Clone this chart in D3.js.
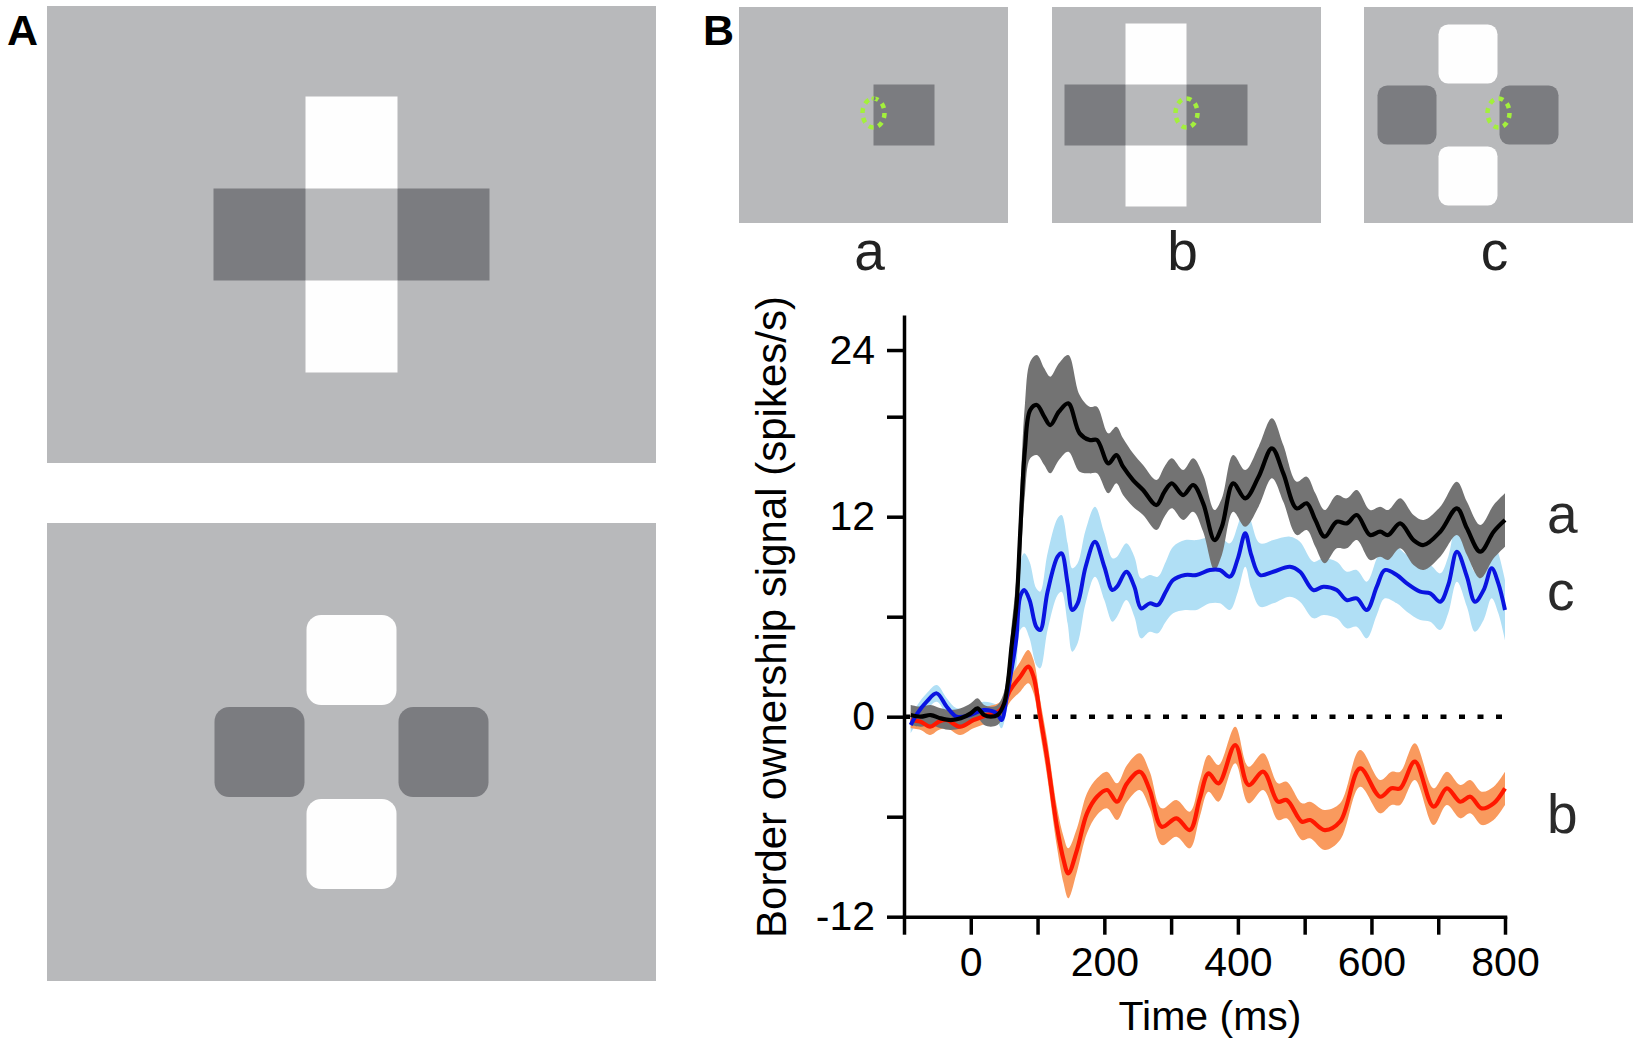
<!DOCTYPE html>
<html>
<head>
<meta charset="utf-8">
<script src="https://cdn.jsdelivr.net/npm/d3@7"></script>
<style>
body { margin: 0; background: #fff; }
svg { display: block; font-family: "Liberation Sans", Arial, sans-serif; }
</style>
</head>
<body>
<div id="fig"></div>
<script>
// ---- data (time in ms, signal in spikes/s) ----
var timeA = [-90,-75,-60,-45,-30,-15,0,10,20,30,40,50,56,61,66,69,74,81,89,99,110,119,132,146,163,178,189,206,218,228,243,258,278,290,301,318,333,348,365,376,393,411,431,451,468,488,503,516,530,548,563,578,598,613,625,643,663,678,703,728,743,763,783,800];
var meanA = [0.1,0.0,0.1,-0.1,-0.2,-0.1,0.2,0.5,0.1,0.0,0.1,0.8,2.2,4.2,5.8,7.0,11.0,16.0,18.4,18.7,18.0,17.5,18.3,18.8,17.0,16.6,16.6,15.2,15.7,15.0,14.2,13.6,12.7,13.5,14.0,13.3,13.9,12.8,10.6,11.4,14.0,13.1,14.4,16.1,14.6,12.5,12.8,11.8,10.8,11.7,11.6,12.1,10.9,11.1,10.9,11.6,10.6,10.3,11.1,12.5,11.3,9.9,11.1,11.8];
var semA  = [0.6,0.6,0.6,0.6,0.6,0.6,0.6,0.6,0.6,0.6,0.6,0.7,0.9,1.2,1.5,1.8,2.3,2.7,2.9,3.0,2.9,2.9,2.9,2.9,2.3,2.0,2.0,1.8,1.7,1.7,1.6,1.5,1.5,1.5,1.5,1.5,1.6,1.7,1.8,1.7,1.7,1.7,1.8,1.8,1.7,1.6,1.6,1.6,1.6,1.6,1.5,1.5,1.5,1.5,1.5,1.5,1.5,1.5,1.5,1.6,1.6,1.6,1.6,1.6];

var timeB = [-90,-75,-61,-48,-36,-16,4,24,44,59,74,86,94,104,114,129,139,146,159,174,189,204,219,234,253,268,286,308,328,343,356,371,396,416,438,460,473,496,508,530,553,583,613,630,643,665,693,713,733,748,765,783,800];
var meanB = [-0.2,-0.3,-0.6,-0.3,-0.2,-0.6,-0.2,0.1,0.4,1.6,2.4,3.0,2.4,0.0,-2.4,-6.6,-8.6,-9.4,-8.0,-5.8,-4.8,-4.4,-5.1,-4.0,-3.3,-4.4,-6.6,-6.1,-6.8,-4.9,-3.4,-4.0,-1.7,-4.1,-3.3,-5.1,-5.0,-6.3,-6.2,-6.8,-6.3,-3.1,-4.8,-4.3,-4.3,-2.7,-5.4,-4.3,-5.1,-4.8,-5.5,-5.2,-4.3];
var semB  = [0.5,0.5,0.5,0.5,0.5,0.5,0.5,0.5,0.5,0.7,0.9,1.0,1.0,1.0,1.1,1.2,1.4,1.5,1.3,1.2,1.1,1.1,1.1,1.1,1.1,1.1,1.1,1.1,1.1,1.1,1.1,1.1,1.1,1.1,1.1,1.1,1.1,1.1,1.1,1.2,1.1,1.1,1.0,1.0,1.0,1.1,1.1,1.0,1.0,1.0,1.0,1.0,1.0];

var timeC = [-90,-80,-66,-51,-36,-21,-1,19,39,46,54,61,68,74,80,88,98,104,115,130,136,145,152,160,172,186,200,212,219,233,245,255,268,280,292,303,321,338,358,373,388,400,411,420,433,453,478,493,513,528,548,563,578,593,608,620,638,653,673,688,703,715,728,743,755,768,780,790,800];
var meanC = [-0.5,0.2,0.9,1.4,0.6,0.0,0.1,0.4,0.2,-0.2,1.2,2.8,4.6,7.2,7.6,7.0,5.4,5.2,7.5,9.6,9.8,8.0,6.4,6.8,9.0,10.5,9.0,7.6,7.8,8.7,7.8,6.5,6.8,6.7,7.5,8.2,8.5,8.5,8.8,8.8,8.4,9.5,11.0,9.7,8.5,8.7,9.0,8.7,7.6,7.8,7.6,7.0,7.1,6.4,7.8,8.8,8.5,8.0,7.5,7.4,6.9,7.9,9.9,8.4,6.9,7.6,8.9,8.0,6.4];
var semC  = [0.5,0.5,0.5,0.5,0.5,0.5,0.5,0.5,0.5,0.5,0.8,1.2,1.6,2.0,2.2,2.3,2.3,2.3,2.3,2.3,2.3,2.4,2.5,2.4,2.2,2.1,2.0,1.9,1.8,1.7,1.8,1.8,1.7,1.7,1.8,2.0,2.1,2.1,2.0,2.0,2.0,2.0,2.0,2.0,1.9,1.9,1.8,1.8,1.7,1.7,1.7,1.7,1.7,1.7,1.7,1.7,1.7,1.7,1.7,1.7,1.7,1.7,1.8,1.8,1.8,1.8,1.8,1.8,1.8];

var seriesNames  = ["a", "b", "c"];
var labelValues  = [11.0, -7.0, 6.4];     // where the a / b / c tags sit
var xTickValues  = [-100,0,100,200,300,400,500,600,700,800];
var xTickLabels  = ["","0","","200","","400","","600","","800"];
var yTickValues  = [-12,-6,0,6,12,18,22];
var yTickLabels  = ["-12","","0","","12","","24"];

// ---- page ----
var W = 1641, H = 1053;
var svg = d3.select("#fig").append("svg").attr("width", W).attr("height", H);

var GRAY = "#b8b9bb", DARK = "#7b7c80", LIGHT = "#fefefe";

// panel letters
svg.append("text").attr("x", 7).attr("y", 45).attr("font-size", 43).attr("font-weight", "bold").text("A");
svg.append("text").attr("x", 703).attr("y", 45).attr("font-size", 43).attr("font-weight", "bold").text("B");

// ---- stimuli: four squares round a grey centre ----
function stimulus(g, cx, cy, u, rounded, parts) {
	var r = rounded ? u * 0.16 : 0, ins = rounded ? 1 : 0;
	parts.forEach(function(p) {
		g.append("rect")
			.attr("x", cx + p.dx * u + ins).attr("y", cy + p.dy * u + ins)
			.attr("width", p.w * u - 2 * ins).attr("height", p.h * u - 2 * ins)
			.attr("rx", r).attr("ry", r)
			.attr("fill", p.c);
	});
}
var crossParts = [
	{dx: -1.5, dy: -0.5, w: 1, h: 1, c: DARK},
	{dx:  0.5, dy: -0.5, w: 1, h: 1, c: DARK},
	{dx: -0.5, dy: -1.5, w: 1, h: 1, c: LIGHT},
	{dx: -0.5, dy:  0.5, w: 1, h: 1, c: LIGHT}
];

var gA1 = svg.append("g");
gA1.append("rect").attr("x", 47).attr("y", 6).attr("width", 609).attr("height", 457).attr("fill", GRAY);
stimulus(gA1, 351.5, 234.5, 92, false, crossParts);

var gA2 = svg.append("g");
gA2.append("rect").attr("x", 47).attr("y", 523).attr("width", 609).attr("height", 458).attr("fill", GRAY);
stimulus(gA2, 351.5, 752, 92, true, crossParts);

// ---- panel B thumbnails (RF sits on the left edge of the right dark square) ----
var shifted = crossParts.map(function(p) {
	return {dx: p.dx - 0.5, dy: p.dy, w: p.w, h: p.h, c: p.c};
});
var thumbs = [
	{x: 739, parts: [{dx: 0, dy: -0.5, w: 1, h: 1, c: DARK}], rounded: false},
	{x: 1052, parts: shifted, rounded: false},
	{x: 1364, parts: shifted, rounded: true}
];
var thumbW = 269, thumbY = 7, thumbH = 216, unit = 61;
thumbs.forEach(function(t, i) {
	var g = svg.append("g");
	var cx = t.x + thumbW / 2, cy = thumbY + thumbH / 2;
	g.append("rect").attr("x", t.x).attr("y", thumbY).attr("width", thumbW).attr("height", thumbH).attr("fill", GRAY);
	stimulus(g, cx, cy, unit, t.rounded, t.parts);
	g.append("ellipse")
		.attr("cx", cx).attr("cy", cy - 2)
		.attr("rx", 11).attr("ry", 14.5)
		.attr("fill", "none")
		.attr("stroke", "#a3f03c")
		.attr("stroke-width", 4.5)
		.attr("pathLength", 80)
		.attr("stroke-dasharray", "5 5");
	g.append("text")
		.attr("x", cx - 4).attr("y", 270)
		.attr("text-anchor", "middle")
		.attr("font-size", 55)
		.attr("fill", "#222")
		.text(["a", "b", "c"][i]);
});

// ---- chart ----
var x = d3.scaleLinear().domain([-100, 800]).range([904, 1505]);
var y = d3.scaleLinear().domain([-12, 24]).range([916.7, 316.7]);

function rows(t, m, s) {
	return t.map(function(d, i) { return {t: d, m: m[i], s: s[i]}; });
}
var series = {
	a: {data: rows(timeA, meanA, semA), line: "#000000", band: "#737373", w: 4.2},
	b: {data: rows(timeB, meanB, semB), line: "#ff1800", band: "#f99a5e", w: 4.2},
	c: {data: rows(timeC, meanC, semC), line: "#0a14e0", band: "#b0dff5", w: 4}
};

var curve = d3.curveCatmullRom.alpha(0.5);
var area = d3.area()
	.x(function(d) { return x(d.t); })
	.y0(function(d) { return y(d.m - d.s); })
	.y1(function(d) { return y(d.m + d.s); })
	.curve(curve);
var line = d3.line()
	.x(function(d) { return x(d.t); })
	.y(function(d) { return y(d.m); })
	.curve(curve);

// dotted zero line
svg.append("line")
	.attr("x1", x(-100)).attr("x2", x(800))
	.attr("y1", y(0)).attr("y2", y(0))
	.attr("stroke", "#000")
	.attr("stroke-width", 4.5)
	.attr("stroke-dasharray", "6 12.5");

// bands then lines
["c", "b", "a"].forEach(function(k) {
	svg.append("path").datum(series[k].data)
		.attr("d", area)
		.attr("fill", series[k].band);
});
["b", "c", "a"].forEach(function(k) {
	svg.append("path").datum(series[k].data)
		.attr("d", line)
		.attr("fill", "none")
		.attr("stroke", series[k].line)
		.attr("stroke-width", series[k].w)
		.attr("stroke-linejoin", "round");
});

// series tags
seriesNames.forEach(function(n, i) {
	svg.append("text")
		.attr("x", 1547).attr("y", y(labelValues[i]))
		.attr("font-size", 55)
		.attr("fill", "#2a2a2a")
		.text(n);
});

// axes
var xAxis = svg.append("g")
	.attr("transform", "translate(0," + y(-12) + ")")
	.call(d3.axisBottom(x)
		.tickValues(xTickValues)
		.tickSize(18).tickSizeOuter(0).tickPadding(12)
		.tickFormat(function(d, i) { return xTickLabels[i]; }));

var yAxis = svg.append("g")
	.attr("transform", "translate(" + x(-100) + ",0)")
	.call(d3.axisLeft(y)
		.tickValues(yTickValues)
		.tickSize(17).tickSizeOuter(0).tickPadding(12)
		.tickFormat(function(d, i) { return yTickLabels[i]; }));

[xAxis, yAxis].forEach(function(ax) {
	ax.select(".domain").attr("stroke-width", 3.5).attr("stroke-linecap", "square");
	ax.selectAll(".tick line").attr("stroke-width", 3.5);
	ax.selectAll(".tick text")
		.attr("font-size", 41)
		.attr("font-family", "Liberation Sans, Arial, sans-serif")
		.attr("fill", "#000");
});

// axis titles
svg.append("text")
	.attr("x", 1210).attr("y", 1030)
	.attr("text-anchor", "middle")
	.attr("font-size", 41)
	.text("Time (ms)");
svg.append("text")
	.attr("transform", "translate(786,617) rotate(-90)")
	.attr("text-anchor", "middle")
	.attr("font-size", 42)
	.text("Border ownership signal (spikes/s)");
</script>
</body>
</html>
